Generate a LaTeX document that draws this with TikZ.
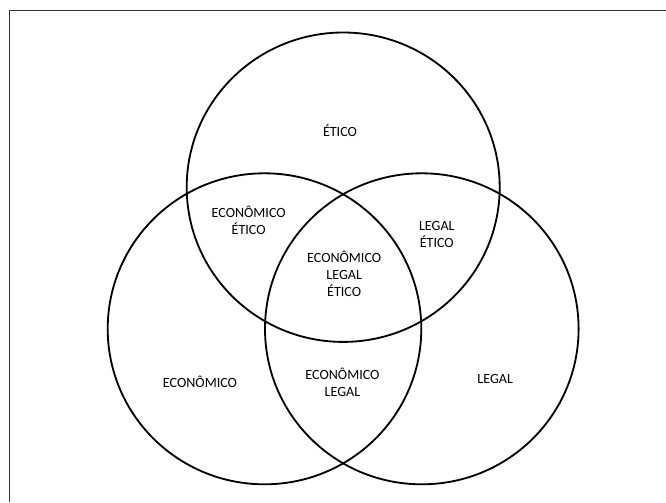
\documentclass[tikz,border=0pt]{standalone}
\usepackage{fontspec}
\setmainfont{Carlito}
\begin{document}
\begin{tikzpicture}[x=0.025cm,y=-0.025cm]
\tikzstyle{every node}=[align=center,anchor=base,inner sep=0pt,font=\fontsize{10}{12.1}\selectfont]
\tikzstyle{aro}=[line width=1.3pt]
\useasboundingbox (0,0) rectangle (666,502);
% moldura
\coordinate (c0) at (9,10.7);
\draw[line width=0.6pt,black!80] (9,502) -- (c0) -- (666,10.7);
% circulos
\coordinate (ct) at (343.2,187.2);
\coordinate (ce) at (264.5,328.8);
\coordinate (cl) at (421.8,328.8);
\draw[aro] (ct) ellipse [x radius=156.5,y radius=154.7];
\draw[aro] (ce) ellipse [x radius=156.8,y radius=155.5];
\draw[aro] (cl) ellipse [x radius=156.8,y radius=155.5];
% textos (base = ultima linha)
\node(et) at (340,136.7) {ÉTICO};
\node(ec) at (200,387.8) {ECONÔMICO};
\node(lg) at (495.2,383.2) {LEGAL};
\node(ecet) at (248.7,234.5) {ECONÔMICO\\ÉTICO};
\node(lget) at (436.8,247.8) {LEGAL\\ÉTICO};
\node(eclg) at (342.5,396.2) {ECONÔMICO\\LEGAL};
\node(todos) at (344.2,296.5) {ECONÔMICO\\LEGAL\\ÉTICO};
\end{tikzpicture}
\end{document}
